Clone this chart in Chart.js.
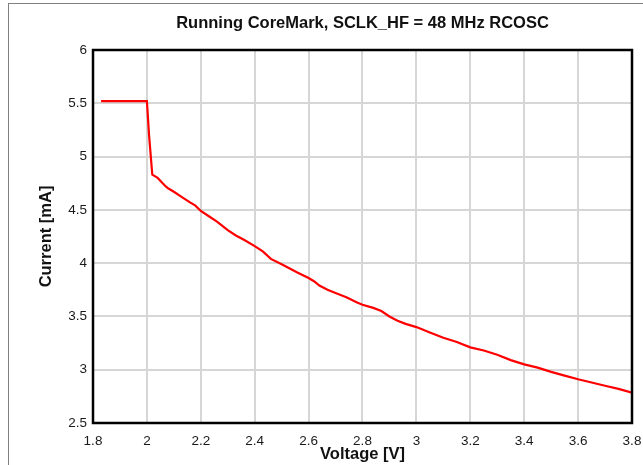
<!DOCTYPE html>
<html>
<head>
<meta charset="utf-8">
<script src="https://cdn.jsdelivr.net/npm/chart.js@4/dist/chart.umd.min.js"></script>
<style>
  html, body { margin: 0; padding: 0; background: #fff; }
  #wrap { position: relative; width: 643px; height: 465px; overflow: hidden; }
  #frame { position: absolute; left: 8px; top: 3px; width: 700px; height: 500px;
           border-top: 1px solid #808080; border-left: 1px solid #808080; }
  canvas { position: absolute; left: 0; top: 0; }
</style>
</head>
<body>
<div id="wrap">
  <div id="frame"></div>
  <canvas id="chart" width="643" height="465"></canvas>
</div>
<script>
// ── Data ──
const TITLE = 'Running CoreMark, SCLK_HF = 48 MHz RCOSC';
const X_TITLE = 'Voltage [V]';
const Y_TITLE = 'Current [mA]';

const voltage = [1.83, 2.00, 2.008, 2.02, 2.04, 2.055, 2.07, 2.08, 2.10, 2.13, 2.16, 2.18,
  2.20, 2.23, 2.26, 2.28, 2.30, 2.33, 2.36, 2.40, 2.43, 2.46, 2.50, 2.53, 2.56, 2.60,
  2.62, 2.64, 2.67, 2.70, 2.74, 2.78, 2.80, 2.84, 2.87, 2.90, 2.93, 2.96, 3.00, 3.05,
  3.10, 3.15, 3.20, 3.25, 3.30, 3.35, 3.40, 3.45, 3.50, 3.55, 3.60, 3.65, 3.70, 3.75, 3.80];
const current = [5.52, 5.52, 5.20, 4.83, 4.80, 4.76, 4.72, 4.70, 4.67, 4.62, 4.57, 4.54,
  4.49, 4.44, 4.39, 4.35, 4.31, 4.26, 4.22, 4.16, 4.11, 4.04, 3.99, 3.95, 3.91, 3.86,
  3.83, 3.79, 3.75, 3.72, 3.68, 3.63, 3.61, 3.58, 3.55, 3.50, 3.46, 3.43, 3.40, 3.35,
  3.30, 3.26, 3.21, 3.18, 3.14, 3.09, 3.05, 3.02, 2.98, 2.945, 2.91, 2.88, 2.85, 2.82, 2.785];

const xTicks = [1.8, 2.0, 2.2, 2.4, 2.6, 2.8, 3.0, 3.2, 3.4, 3.6, 3.8];
const yTicks = [2.5, 3, 3.5, 4, 4.5, 5, 5.5, 6];

const FONT = '"Liberation Sans", Arial, Helvetica, sans-serif';

// ── Title + plot frame ──
const framePlugin = {
  id: 'frameTitle',
  afterDraw(chart) {
    const { ctx, chartArea: a } = chart;
    ctx.save();
    ctx.lineWidth = 2.5;
    ctx.strokeStyle = '#000';
    ctx.strokeRect(a.left, a.top, a.right - a.left, a.bottom - a.top);
    ctx.font = 'bold 16.5px ' + FONT;
    ctx.fillStyle = '#111';
    ctx.textAlign = 'center';
    ctx.textBaseline = 'alphabetic';
    ctx.fillText(TITLE, (a.left + a.right) / 2, 28);
    ctx.restore();
  }
};

const tickFont = { family: FONT, size: 13.5 };
const titleFont = { family: FONT, size: 16.5, weight: 'bold' };

new Chart(document.getElementById('chart'), {
  type: 'line',
  data: {
    datasets: [{
      data: voltage.map((v, i) => ({ x: v, y: current[i] })),
      borderColor: '#ff0000',
      borderWidth: 2.2,
      pointRadius: 0,
      tension: 0,
      fill: false
    }]
  },
  options: {
    responsive: false,
    devicePixelRatio: 1,
    animation: false,
    layout: { padding: { top: 50, right: 11, left: 0, bottom: 0 } },
    plugins: { legend: { display: false }, tooltip: { enabled: false }, title: { display: false } },
    scales: {
      x: {
        type: 'linear', min: xTicks[0], max: xTicks[xTicks.length - 1],
        afterBuildTicks: s => { s.ticks = xTicks.map(v => ({ value: v })); },
        afterFit: s => { s.height = 42; s.paddingLeft = 0; s.paddingRight = 0; },
        ticks: { font: tickFont, color: '#1a1a1a', padding: 10,
                 callback: v => String(Number(v.toFixed(1))) },
        grid: { color: '#d6d6d6', lineWidth: 2, drawTicks: false },
        border: { display: false },
        title: { display: true, text: X_TITLE, font: titleFont, color: '#111', padding: { top: 0, bottom: 1 } }
      },
      y: {
        type: 'linear', min: yTicks[0], max: yTicks[yTicks.length - 1],
        afterBuildTicks: s => { s.ticks = yTicks.map(v => ({ value: v })); },
        afterFit: s => { s.width = 93; },
        ticks: { font: tickFont, color: '#1a1a1a', padding: 6,
                 callback: v => String(v) },
        grid: { color: '#d6d6d6', lineWidth: 2, drawTicks: false },
        border: { display: false },
        title: { display: true, text: Y_TITLE, font: titleFont, color: '#111', padding: { top: 37, bottom: 0 } }
      }
    }
  },
  plugins: [framePlugin]
});
</script>
</body>
</html>
